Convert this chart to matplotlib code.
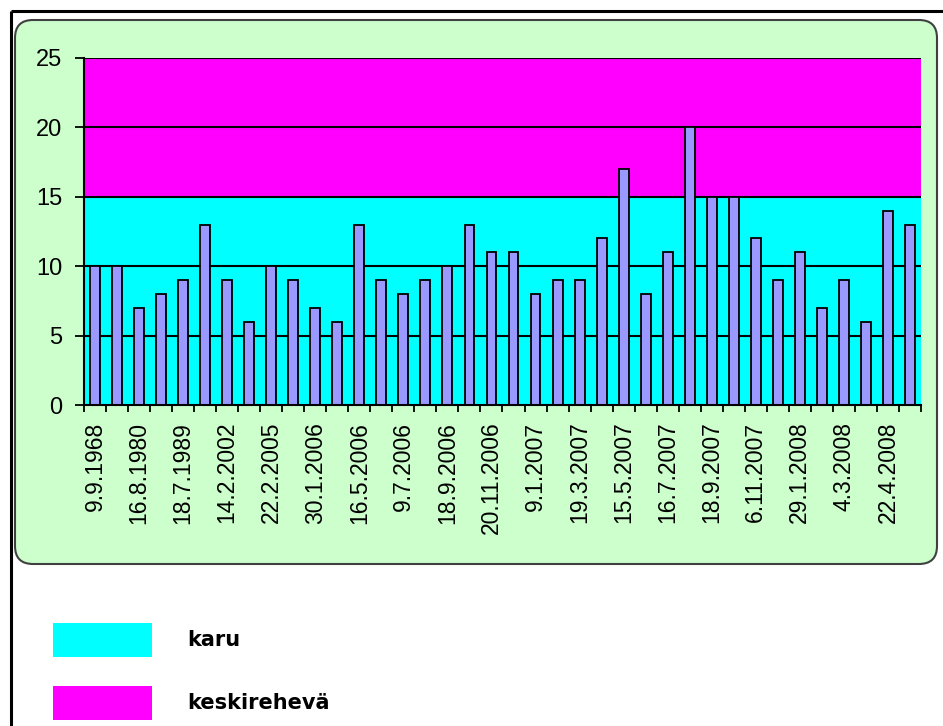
import matplotlib
matplotlib.use("Agg")
import matplotlib.pyplot as plt
from matplotlib.patches import FancyBboxPatch, Rectangle
import numpy as np

# ---- data ----
values = [10, 10, 7, 8, 9, 13, 9, 6, 10, 9, 7, 6, 13, 9, 8, 9, 10, 13, 11,
          11, 8, 9, 9, 12, 17, 8, 11, 20, 15, 15, 12, 9, 11, 7, 9, 6, 14, 13]
tick_labels = ["9.9.1968", "16.8.1980", "18.7.1989", "14.2.2002", "22.2.2005",
               "30.1.2006", "16.5.2006", "9.7.2006", "18.9.2006", "20.11.2006",
               "9.1.2007", "19.3.2007", "15.5.2007", "16.7.2007", "18.9.2007",
               "6.11.2007", "29.1.2008", "4.3.2008", "22.4.2008"]
bands = [("karu", 0, 15, "#00FFFF"), ("keskirehevä", 15, 25, "#FF00FF")]
yticks = [0, 5, 10, 15, 20, 25]

W, H = 943, 726
fig = plt.figure(figsize=(W / 100, H / 100), dpi=100)
fig.patch.set_facecolor("white")

# background (pixel coordinates)
bg = fig.add_axes([0, 0, 1, 1], zorder=0)
bg.set_xlim(0, W)
bg.set_ylim(H, 0)
bg.axis("off")
bg.plot([11, W], [11, 11], color="black", lw=2.2, solid_capstyle="butt")
bg.plot([11, 11], [11, H], color="black", lw=2.2, solid_capstyle="butt")
box = FancyBboxPatch((15, 20), 922, 544,
                     boxstyle="round,pad=0,rounding_size=18",
                     facecolor="#CCFFCC", edgecolor="#404040", lw=1.5)
bg.add_patch(box)

# legend
leg_y = [640, 703]
for (name, lo, hi, col), yc in zip(bands, leg_y):
    bg.add_patch(Rectangle((53, yc - 17), 99, 34, facecolor=col, edgecolor="none"))
    bg.text(187, yc, name, fontsize=15, fontweight="bold", family="DejaVu Sans",
            va="center", ha="left", color="black")

# main axes
left, right, top, bottom = 84, 921, 58, 405
ax = fig.add_axes([left / W, 1 - bottom / H, (right - left) / W, (bottom - top) / H], zorder=1)
ax.set_facecolor("none")
x = np.arange(len(values))
for name, lo, hi, col in bands:
    ax.axhspan(lo, hi, color=col, zorder=0, lw=0)
for yv in yticks[1:]:
    ax.axhline(yv, color="black", lw=1.5, zorder=1)
ax.bar(x, values, width=0.45, color="#9999FF", edgecolor="black", lw=1.3, zorder=2)

ax.set_xlim(-0.5, len(values) - 0.5)
ax.set_ylim(0, 25)
ax.set_yticks(yticks)
ax.set_yticklabels([str(v) for v in yticks], family="Liberation Sans", fontsize=17)
ax.set_xticks(x[::2])
ax.set_xticklabels(tick_labels, rotation=90, family="Liberation Sans", fontsize=16.5,
                   ha="center", va="top")
ax.set_xticks(np.arange(-0.5, len(values)), minor=True)
ax.tick_params(axis="x", which="major", length=0, pad=12)
ax.tick_params(axis="x", which="minor", length=5, width=1.3, color="black")
ax.tick_params(axis="y", length=6.5, width=1.3, pad=9)
for s in ["top", "right"]:
    ax.spines[s].set_visible(False)
for s in ["left", "bottom"]:
    ax.spines[s].set_linewidth(1.5)
    ax.spines[s].set_zorder(3)

fig.savefig("out.png", dpi=100)
